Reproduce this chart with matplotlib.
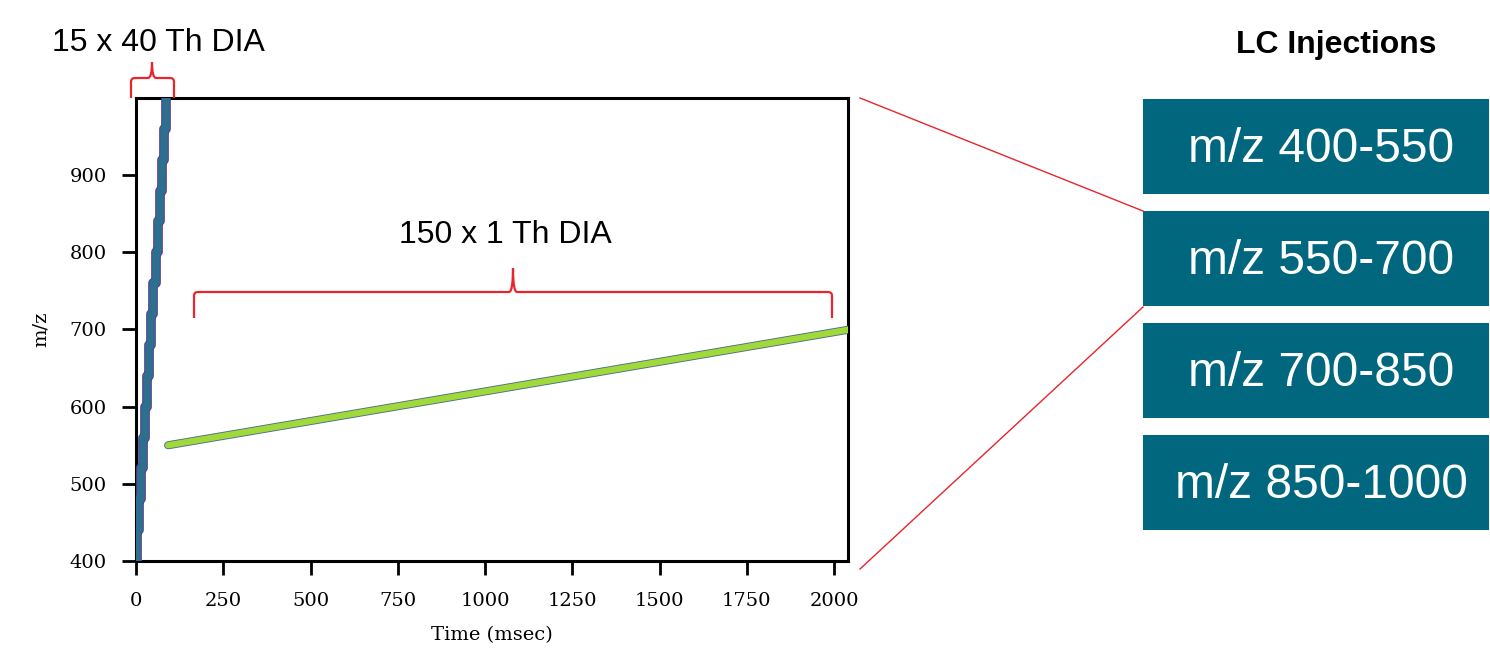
import matplotlib
matplotlib.use("Agg")
import matplotlib.pyplot as plt
import matplotlib.patheffects as pe
from matplotlib.path import Path
from matplotlib.patches import PathPatch, Rectangle
import numpy as np

# ---- data ----
wide_times = [2, 8, 14, 20, 26, 32, 38, 44, 50, 56, 62, 68, 74, 80, 86, 86]
wide_mz = [400, 440, 480, 520, 560, 600, 640, 680, 720, 760, 800, 840, 880, 920, 960, 1000]
narrow_times = [92, 2045]
narrow_mz = [550, 700]
xticks = [0, 250, 500, 750, 1000, 1250, 1500, 1750, 2000]
yticks = [400, 500, 600, 700, 800, 900]
injections = ["m/z 400-550", "m/z 550-700", "m/z 700-850", "m/z 850-1000"]

W, H = 1490, 648
fig = plt.figure(figsize=(W / 100, H / 100), dpi=100)
ax = fig.add_axes([136 / W, 1 - 561 / H, (848 - 136) / W, (561 - 98) / H])

ax.plot(wide_times, wide_mz, drawstyle="steps-pre", color="#2c6f8e", lw=5.5,
        solid_capstyle="butt",
        path_effects=[pe.Stroke(linewidth=7, foreground="#5b3f8f"), pe.Normal()], zorder=3)
ax.plot(narrow_times, narrow_mz, color="#a2d93a", lw=4.5, solid_capstyle="round",
        path_effects=[pe.Stroke(linewidth=5.8, foreground="#4a6f8a"), pe.Normal()], zorder=3)

ax.set_xlim(0, 2040)
ax.set_ylim(400, 1000)
ax.set_xticks(xticks)
ax.set_yticks(yticks)
for s in ax.spines.values():
    s.set_linewidth(2.2)
ax.tick_params(length=10, width=2.0, labelsize=14)
ax.tick_params(axis="x", pad=12)
ax.tick_params(axis="y", pad=11)
for lab in ax.get_xticklabels() + ax.get_yticklabels():
    lab.set_family("DejaVu Serif")
ax.set_xlabel("Time (msec)", family="DejaVu Serif", fontsize=14, labelpad=12)
ax.set_ylabel("m/z", family="DejaVu Serif", fontsize=14, labelpad=14)

# ---- overlay for annotations ----
ov = fig.add_axes([0, 0, 1, 1], facecolor="none")
ov.set_xlim(0, W)
ov.set_ylim(H, 0)
ov.axis("off")

red = "#e8242c"

def bracket(x0, x1, xm, ybase, ybar, ypeak):
    r = 4
    verts = [(x0, ybase), (x0, ybar + r), (x0, ybar), (x0 + r, ybar),
             (xm - r, ybar), (xm, ybar), (xm, ypeak),
             (xm, ybar), (xm + r, ybar),
             (x1 - r, ybar), (x1, ybar), (x1, ybar + r), (x1, ybase)]
    codes = [Path.MOVETO, Path.LINETO, Path.CURVE3, Path.CURVE3,
             Path.LINETO, Path.CURVE3, Path.CURVE3,
             Path.CURVE3, Path.CURVE3,
             Path.LINETO, Path.CURVE3, Path.CURVE3, Path.LINETO]
    ov.add_patch(PathPatch(Path(verts, codes), fill=False, edgecolor=red, lw=1.6))

bracket(131, 174, 152, 98, 78, 62)
bracket(194, 832, 513, 318, 292, 268)

ov.text(158, 43, "15 x 40 Th DIA", ha="center", va="center", fontsize=23,
        family="Liberation Sans", color="black")
ov.text(505, 235, "150 x 1 Th DIA", ha="center", va="center", fontsize=23,
        family="Liberation Sans", color="black")
ov.text(1336, 45, "LC Injections", ha="center", va="center", fontsize=23,
        family="Liberation Sans", weight="bold", color="black")

ov.plot([860, 1143], [98, 211], color=red, lw=1.0)
ov.plot([860, 1143], [569, 307], color=red, lw=1.0)

box_tops = [99, 211, 323, 435]
for top, label in zip(box_tops, injections):
    ov.add_patch(Rectangle((1143, top), 346, 95, facecolor="#00677e", edgecolor="none"))
    ov.text(1321, top + 50, label, ha="center", va="center", fontsize=34.5,
            family="Liberation Sans", color="white")

fig.savefig("out.png", dpi=100)
